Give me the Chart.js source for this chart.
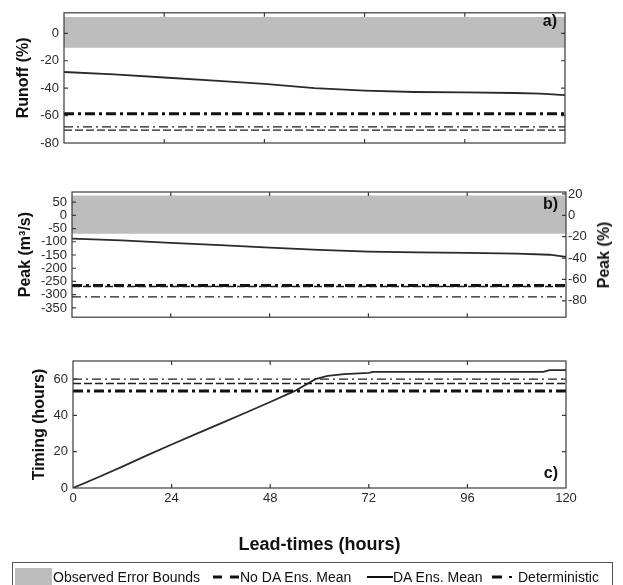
<!DOCTYPE html>
<html>
<head>
<meta charset="utf-8">
<script src="https://cdn.jsdelivr.net/npm/chart.js@4.4.1/dist/chart.umd.min.js"></script>
<style>
  body { margin: 0; background: #fff; width: 623px; height: 585px; overflow: hidden; position: relative;
         font-family: "Liberation Sans", Arial, sans-serif; }
  canvas { position: absolute; left: 0; }
  #peakPct { position: absolute; left: 604px; top: 255px; transform: translate(-50%, -50%) rotate(-90deg);
             font-weight: bold; font-size: 16px; white-space: nowrap; color: #111; }
  #legend { position: absolute; left: 12px; top: 562px; width: 599px; height: 30px; border: 1px solid #555; }
  #legend span { position: absolute; top: 7px; font-size: 14px; line-height: 14px; white-space: nowrap; color: #111; }
  #legend .swatch { position: absolute; left: 2px; top: 5px; width: 37px; height: 25px; background: #bdbdbd; }
  #legend svg { position: absolute; left: 0; top: 0; }
</style>
</head>
<body>
<canvas id="runoff" width="623" height="160" style="top:0px"></canvas>
<canvas id="peak" width="623" height="170" style="top:160px"></canvas>
<canvas id="timing" width="623" height="223" style="top:340px"></canvas>
<div id="peakPct">Peak (%)</div>
<div id="legend">
  <div class="swatch"></div>
  <span style="left:40px">Observed Error Bounds</span>
  <span style="left:227px">No DA Ens. Mean</span>
  <span style="left:380px">DA Ens. Mean</span>
  <span style="left:505px">Deterministic</span>
  <svg width="599" height="30">
    <line x1="200" y1="14" x2="209" y2="14" stroke="#111" stroke-width="3"/>
    <line x1="217" y1="14" x2="226" y2="14" stroke="#111" stroke-width="3"/>
    <line x1="354" y1="14" x2="380" y2="14" stroke="#111" stroke-width="2"/>
    <line x1="479" y1="14" x2="489" y2="14" stroke="#111" stroke-width="3"/>
    <line x1="496" y1="14" x2="499" y2="14" stroke="#111" stroke-width="2"/>
  </svg>
</div>
<script>
// lead times (hours)
const xRange = [0, 120];

// a) runoff error (%)
const runoffHours = [0, 12, 24, 36, 48, 60, 72, 84, 96, 108, 114, 120];
const runoffDA = [-28.2, -30, -32.2, -34.5, -36.8, -40, -41.8, -42.8, -43.1, -43.5, -44, -45];
const runoffBand = [12, -10.5];
const runoffNoDA = -70.6;
const runoffDet = -58.6;
const runoffDetThin = -68.2;

// b) peak error (m3/s)
const peakHours = [0, 12, 24, 36, 48, 60, 72, 84, 96, 108, 116, 120];
const peakDA = [-88, -95, -104, -113, -122, -131, -137, -140, -142, -145, -149, -157];
const peakBand = [75, -70];
const peakNoDA = -269;
const peakDet = -265;
const peakDetThin = -308;

// c) timing error (hours)
const timingHours = [0, 6, 12, 18, 24, 30, 36, 42, 48, 54, 59, 62, 66, 72, 73, 114.5, 116, 120];
const timingDA = [0, 5.8, 11.8, 18, 24, 29.8, 35.6, 41.5, 47.4, 53.5, 60, 61.8, 62.8, 63.5, 64, 64, 65, 65];
const timingNoDA = 57.6;
const timingDet = 53.5;
const timingDetThin = 60;

const FONT = "'Liberation Sans', Arial, sans-serif";
const INK = "#1e1e1e";

function pts(xs, ys) { return xs.map((x, i) => ({ x: x, y: ys[i] })); }
function flat(v) { return xRange.map(x => ({ x: x, y: v })); }

function buildDatasets(hours, da, band, noDA, det, detThin) {
  const base = { pointRadius: 0, tension: 0, fill: false };
  return [
    Object.assign({}, base, { label: "bandHigh", data: flat(band[0]), borderWidth: 0 }),
    Object.assign({}, base, { label: "Observed Error Bounds", data: flat(band[1]), borderWidth: 0,
      fill: "-1", backgroundColor: "#bdbdbd" }),
    Object.assign({}, base, { label: "obs", data: flat(0), borderColor: "#333", borderWidth: 1.2 }),
    Object.assign({}, base, { label: "No DA Ens. Mean", data: flat(noDA), borderColor: INK, borderWidth: 1.3, borderDash: [8, 3] }),
    Object.assign({}, base, { label: "detThin", data: flat(detThin), borderColor: INK, borderWidth: 1.3, borderDash: [9, 4, 2, 4] }),
    Object.assign({}, base, { label: "Deterministic", data: flat(det), borderColor: "#111", borderWidth: 3, borderDash: [10, 4, 3, 4] }),
    Object.assign({}, base, { label: "DA Ens. Mean", data: pts(hours, da), borderColor: "#2a2a2a", borderWidth: 1.8 })
  ];
}

// frame, inward ticks and panel letter
const framePlugin = {
  id: "frame",
  afterDatasetsDraw(chart, args, opts) {
    const ctx = chart.ctx, a = chart.chartArea, s = chart.scales;
    const tl = 4;
    ctx.save();
    ctx.strokeStyle = "#3a3a3a";
    ctx.lineWidth = 1.2;
    ctx.strokeRect(a.left, a.top, a.right - a.left, a.bottom - a.top);
    ctx.beginPath();
    s.x.ticks.forEach(t => {
      const px = s.x.getPixelForValue(t.value);
      if (px <= a.left + 1 || px >= a.right - 1) return;
      ctx.moveTo(px, a.bottom); ctx.lineTo(px, a.bottom - tl);
      ctx.moveTo(px, a.top); ctx.lineTo(px, a.top + tl);
    });
    const leftY = s.y, rightY = s.y2 || s.y;
    leftY.ticks.forEach(t => {
      const py = leftY.getPixelForValue(t.value);
      if (py <= a.top + 1 || py >= a.bottom - 1) return;
      ctx.moveTo(a.left, py); ctx.lineTo(a.left + tl, py);
    });
    rightY.ticks.forEach(t => {
      const py = rightY.getPixelForValue(t.value);
      if (py <= a.top + 1 || py >= a.bottom - 1) return;
      ctx.moveTo(a.right, py); ctx.lineTo(a.right - tl, py);
    });
    ctx.stroke();
    ctx.fillStyle = "#111";
    ctx.font = "bold 16px " + FONT;
    ctx.textAlign = "right";
    ctx.textBaseline = "middle";
    const ly = opts.atBottom ? a.bottom - 14 : a.top + opts.dy;
    ctx.fillText(opts.text, a.right - 8, ly);
    ctx.restore();
  }
};

function yAxis(min, max, step, width, title, titlePad, position) {
  return {
    type: "linear", position: position || "left", min: min, max: max,
    ticks: { stepSize: step, includeBounds: false, autoSkip: false, color: "#2a2a2a",
             padding: position === "right" ? 2 : 5, font: { family: FONT, size: 13 } },
    grid: { display: false, drawTicks: false }, border: { display: false },
    title: { display: !!title, text: title, color: "#111", font: { family: FONT, size: 16, weight: "bold" },
             padding: { top: titlePad, bottom: 0 } },
    afterFit: s => { s.width = width; }
  };
}

function xAxis(showLabels, height) {
  return {
    type: "linear", min: xRange[0], max: xRange[1],
    ticks: { stepSize: 24, display: showLabels, autoSkip: false, color: "#2a2a2a", padding: 3,
             font: { family: FONT, size: 13 } },
    grid: { display: false, drawTicks: false }, border: { display: false },
    title: { display: showLabels, text: "Lead-times (hours)", color: "#111",
             font: { family: FONT, size: 18, weight: "bold" }, padding: { top: 0, bottom: 7 } },
    afterFit: s => { s.height = height; }
  };
}

const common = {
  type: "line",
  plugins: [framePlugin]
};

new Chart(document.getElementById("runoff").getContext("2d"), Object.assign({}, common, {
  data: { datasets: buildDatasets(runoffHours, runoffDA, runoffBand, runoffNoDA, runoffDet, runoffDetThin) },
  options: {
    responsive: false, animation: false, events: [],
    layout: { padding: { top: 12, bottom: 17, left: 0, right: 58 } },
    plugins: { legend: { display: false }, tooltip: { enabled: false }, frame: { text: "a)", dy: 9 } },
    scales: { x: xAxis(false, 0), y: yAxis(-80, 15, 20, 64, "Runoff (%)", 14) }
  }
}));

new Chart(document.getElementById("peak").getContext("2d"), Object.assign({}, common, {
  data: { datasets: buildDatasets(peakHours, peakDA, peakBand, peakNoDA, peakDet, peakDetThin) },
  options: {
    responsive: false, animation: false, events: [],
    layout: { padding: { top: 32, bottom: 10, left: 0, right: 0 } },
    plugins: { legend: { display: false }, tooltip: { enabled: false }, frame: { text: "b)", dy: 13 } },
    scales: {
      x: xAxis(false, 0),
      y: yAxis(-385, 88, 50, 72, "Peak (m\u00b3/s)", 16),
      y2: yAxis(-95.3, 21.8, 20, 57, "", 0, "right")
    }
  }
}));

new Chart(document.getElementById("timing").getContext("2d"), Object.assign({}, common, {
  data: { datasets: buildDatasets(timingHours, timingDA, [0, 0], timingNoDA, timingDet, timingDetThin).slice(3) },
  options: {
    responsive: false, animation: false, events: [],
    layout: { padding: { top: 21, bottom: 0, left: 0, right: 57 } },
    plugins: { legend: { display: false }, tooltip: { enabled: false }, frame: { text: "c)", atBottom: true } },
    scales: { x: xAxis(true, 75), y: yAxis(0, 70, 20, 73, "Timing (hours)", 30) }
  }
}));
</script>
</body>
</html>
